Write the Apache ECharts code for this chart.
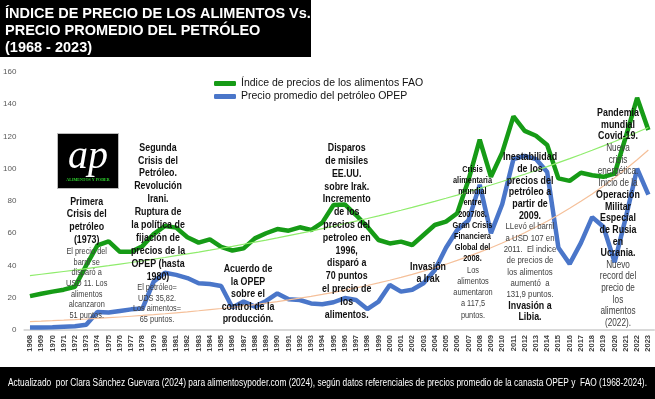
<!DOCTYPE html>
<html>
<head>
<meta charset="utf-8">
<script src="https://cdn.jsdelivr.net/npm/echarts@6/dist/echarts.min.js"></script>
<style>
body{margin:0;background:#fff}
#chart{width:655px;height:399px}
</style>
</head>
<body>
<div id="chart"></div>
<script>
// años (eje X)
var years = ['1968','1969','1970','1971','1972','1973','1974','1975','1976','1977','1978','1979',
  '1980','1981','1982','1983','1984','1985','1986','1987','1988','1989','1990','1991','1992','1993',
  '1994','1995','1996','1997','1998','1999','2000','2001','2002','2003','2004','2005','2006','2007',
  '2008','2009','2010','2011','2012','2013','2014','2015','2016','2017','2018','2019','2020','2021',
  '2022','2023'];

// Indice de precios de los alimentos FAO
var foodIndex = [21, 22.5, 23.8, 25, 26.8, 40, 52.5, 55, 48.5, 48.5, 52, 59.5,
  64.5, 63.5, 57.5, 54.2, 56.2, 51.5, 49.3, 50.6, 56.8, 60, 62.6, 61.6, 63.7, 62,
  66.6, 77.5, 77.9, 71.3, 64, 55.8, 53.7, 54.8, 52.7, 58.9, 65.1, 67.2, 72.4, 93,
  118, 95, 110, 132.5, 123.5, 120.5, 114.7, 94, 92.5, 97.5, 96, 95, 97, 120,
  144, 124];

// Precio promedio del petroleo OPEP (USD)
var oilPrice = [1.6, 1.6, 1.7, 2.0, 2.3, 3.2, 11.2, 10.8, 11.8, 12.8, 13.3, 30,
  35.5, 34.2, 32.2, 29, 28.5, 27.3, 14, 17.6, 14.5, 18, 22.7, 19, 18.6, 16.5,
  16, 17.2, 19.8, 18.6, 13, 17.6, 27.9, 23.8, 25, 29, 37, 51, 62, 68,
  90, 60, 78, 106, 108, 106, 98, 51, 41, 54, 70, 64, 42, 70,
  100, 84];

var yTicks = [0, 20, 40, 60, 80, 100, 120, 140, 160];

// linea de tendencia exponencial (como Excel): ajuste de ln(y) por minimos cuadrados
function expTrend(values) {
  var n = values.length, st = 0, sl = 0, stt = 0, stl = 0;
  values.forEach(function (v, t) {
    var l = Math.log(v);
    st += t; sl += l; stt += t * t; stl += t * l;
  });
  var b = (n * stl - st * sl) / (n * stt - st * st);
  var a = (sl - b * st) / n;
  return values.map(function (v, t) { return +Math.exp(a + b * t).toFixed(2); });
}

var SANS = "'Liberation Sans', Arial, sans-serif";
var NARROW_SCALE = 0.82; // no hay Arial Narrow: se comprime Liberation Sans

var graphics = [];

// titulo
graphics.push({ type: 'rect', left: 0, top: 0, shape: { width: 311, height: 57 }, style: { fill: '#000' }, z: 10 });
graphics.push({
  type: 'text', x: 5, y: 5, z: 11,
  style: {
    text: 'ÍNDICE DE PRECIO DE LOS ALIMENTOS Vs.\nPRECIO PROMEDIO DEL PETRÓLEO\n(1968 - 2023)',
    fill: '#fff', font: 'bold 14.5px ' + SANS, lineHeight: 17
  }
});

// pie de pagina
graphics.push({ type: 'rect', left: 0, top: 367, shape: { width: 655, height: 32 }, style: { fill: '#000' }, z: 10 });
graphics.push({
  type: 'text', x: 8, y: 383, scaleX: 0.836, z: 11,
  style: {
    text: 'Actualizado  por Clara Sánchez Guevara (2024) para alimentosypoder.com (2024), según datos referenciales de precios promedio de la canasta OPEP y  FAO (1968-2024).',
    fill: '#fff', font: '10px ' + SANS, textVerticalAlign: 'middle'
  }
});

// logo
graphics.push({ type: 'rect', left: 57, top: 133, shape: { width: 61, height: 55 }, style: { fill: '#000', stroke: '#bbb', lineWidth: 1 }, z: 10 });
graphics.push({
  type: 'text', x: 88, y: 157, z: 11,
  style: { text: 'ap', fill: '#fff', font: 'italic 40px "Liberation Serif", serif', textAlign: 'center', textVerticalAlign: 'middle' }
});
graphics.push({
  type: 'text', x: 88, y: 180, z: 11,
  style: { text: 'ALIMENTOS Y PODER', fill: '#2ed62e', font: 'bold 4px "Liberation Serif", serif', textAlign: 'center', textVerticalAlign: 'middle' }
});

// anotaciones
function note(x, y0, lh, bold, size, lines, color) {
  graphics.push({
    type: 'text', x: x, y: y0 - lh / 2, scaleX: NARROW_SCALE, z: 20,
    style: {
      text: lines.join('\n'),
      fill: color || (bold ? '#111' : '#404040'),
      font: (bold ? 'bold ' : '') + size + 'px ' + SANS,
      textAlign: 'center', textVerticalAlign: 'top', lineHeight: lh
    }
  });
}
note(86.7, 201.7, 12.8, true, 10.8, ['Primera', 'Crisis del', 'petróleo', '(1973)']);
note(86.7, 251.7, 10.6, false, 9, ['El precio del', 'barril se', 'disparó a', 'USD 11. Los', 'alimentos', 'alcanzaron', '51 puntos.']);
note(158, 147.7, 12.9, true, 10.8, ['Segunda', 'Crisis del', 'Petróleo.', 'Revolución', 'Irani.', 'Ruptura de', 'la política de', 'fijación de', 'precios de la', 'OPEP (hasta', '1980)']);
note(157, 287.5, 10.7, false, 9, ['El petróleo=', 'UDS 35,82.', 'Los aimentos=', '65 puntos.']);
note(248, 269, 12.6, true, 10.8, ['Acuerdo de', 'la OPEP', 'sobre el', 'control de la', 'producción.']);
note(346.7, 148.3, 12.8, true, 10.8, ['Disparos', 'de misiles', 'EE.UU.', 'sobre Irak.', 'Incremento', 'de los', 'precios del', 'petroleo en', '1996,', 'disparó a', '70 puntos', 'el precio de', 'los', 'alimentos.']);
note(428, 267.3, 12, true, 10.8, ['Invasión', 'a Irak']);
note(472.5, 169.3, 11.2, true, 9, ['Crisis', 'alimentaria', 'mundial', 'entre', '2007/08.', 'Gran Crisis', 'Financiera', 'Global del', '2008.']);
note(473, 270.7, 11.1, false, 9, ['Los', 'alimentos', 'aumentaron', 'a 117,5', 'puntos.']);
note(530, 157.3, 11.7, true, 10.8, ['Inestabilidad', 'de los', 'precios del', 'petróleo a', 'partir de', '2009.']);
note(530, 226.7, 11.3, false, 9.5, ['LLevó el barril', 'a USD 107 en', '2011.  El indice', 'de precios de', 'los alimentos', 'aumentó  a', '131,9 puntos.']);
note(530, 306, 11.5, true, 10.8, ['Invasión a', 'Libia.']);
note(618, 113.3, 11.5, true, 10.8, ['Pandemia', 'mundial', 'Covid-19.']);
note(618, 148.3, 11.5, false, 10, ['Nueva', 'crisis', 'energética.', 'Inicio de la']);
note(618, 195, 11.7, true, 10.8, ['Operación', 'Militar', 'Especial', 'de Rusia', 'en', 'Ucrania.']);
note(618, 265, 11.6, false, 10, ['Nuevo', 'record del', 'precio de', 'los', 'alimentos', '(2022).']);

var option = {
  animation: false,
  backgroundColor: '#fff',
  grid: { left: 23, right: 1, top: 72, bottom: 69 },
  legend: {
    data: ['Índice de precios de los alimentos FAO', 'Precio promedio del petróleo OPEP'],
    orient: 'vertical', left: 209, top: 73, itemGap: 2,
    itemWidth: 22, itemHeight: 5, icon: 'roundRect',
    textStyle: { fontSize: 10.5, color: '#111', fontFamily: SANS }
  },
  xAxis: {
    type: 'category',
    data: years,
    boundaryGap: true,
    axisLine: { lineStyle: { color: '#d9d9d9', width: 2 } },
    axisTick: { show: false },
    axisLabel: { interval: 0, rotate: 90, fontSize: 7.5, fontWeight: 'bold', color: '#404040', margin: 5, fontFamily: SANS }
  },
  yAxis: {
    type: 'value',
    min: yTicks[0], max: yTicks[yTicks.length - 1], interval: 20,
    axisLine: { show: false },
    axisTick: { show: false },
    splitLine: { show: false },
    axisLabel: { fontSize: 8, color: '#595959', margin: 8, fontFamily: SANS }
  },
  series: [
    {
      name: 'Índice de precios de los alimentos FAO',
      type: 'line', data: foodIndex, symbol: 'none',
      itemStyle: { color: '#169b16' },
      lineStyle: { width: 4.5, color: '#169b16' },
      z: 3
    },
    {
      name: 'Precio promedio del petróleo OPEP',
      type: 'line', data: oilPrice, symbol: 'none',
      itemStyle: { color: '#4a76c9' },
      lineStyle: { width: 4.5, color: '#4a76c9' },
      z: 3
    },
    {
      name: 'tendencia alimentos',
      type: 'line', data: expTrend(foodIndex), symbol: 'none', silent: true,
      lineStyle: { width: 1.2, color: '#8fec6c' },
      z: 4
    },
    {
      name: 'tendencia petroleo',
      type: 'line', data: expTrend(oilPrice), symbol: 'none', silent: true,
      lineStyle: { width: 1.2, color: '#f5c09a' },
      z: 4
    }
  ],
  graphic: graphics
};

var chart = echarts.init(document.getElementById('chart'));
chart.setOption(option);
</script>
</body>
</html>
